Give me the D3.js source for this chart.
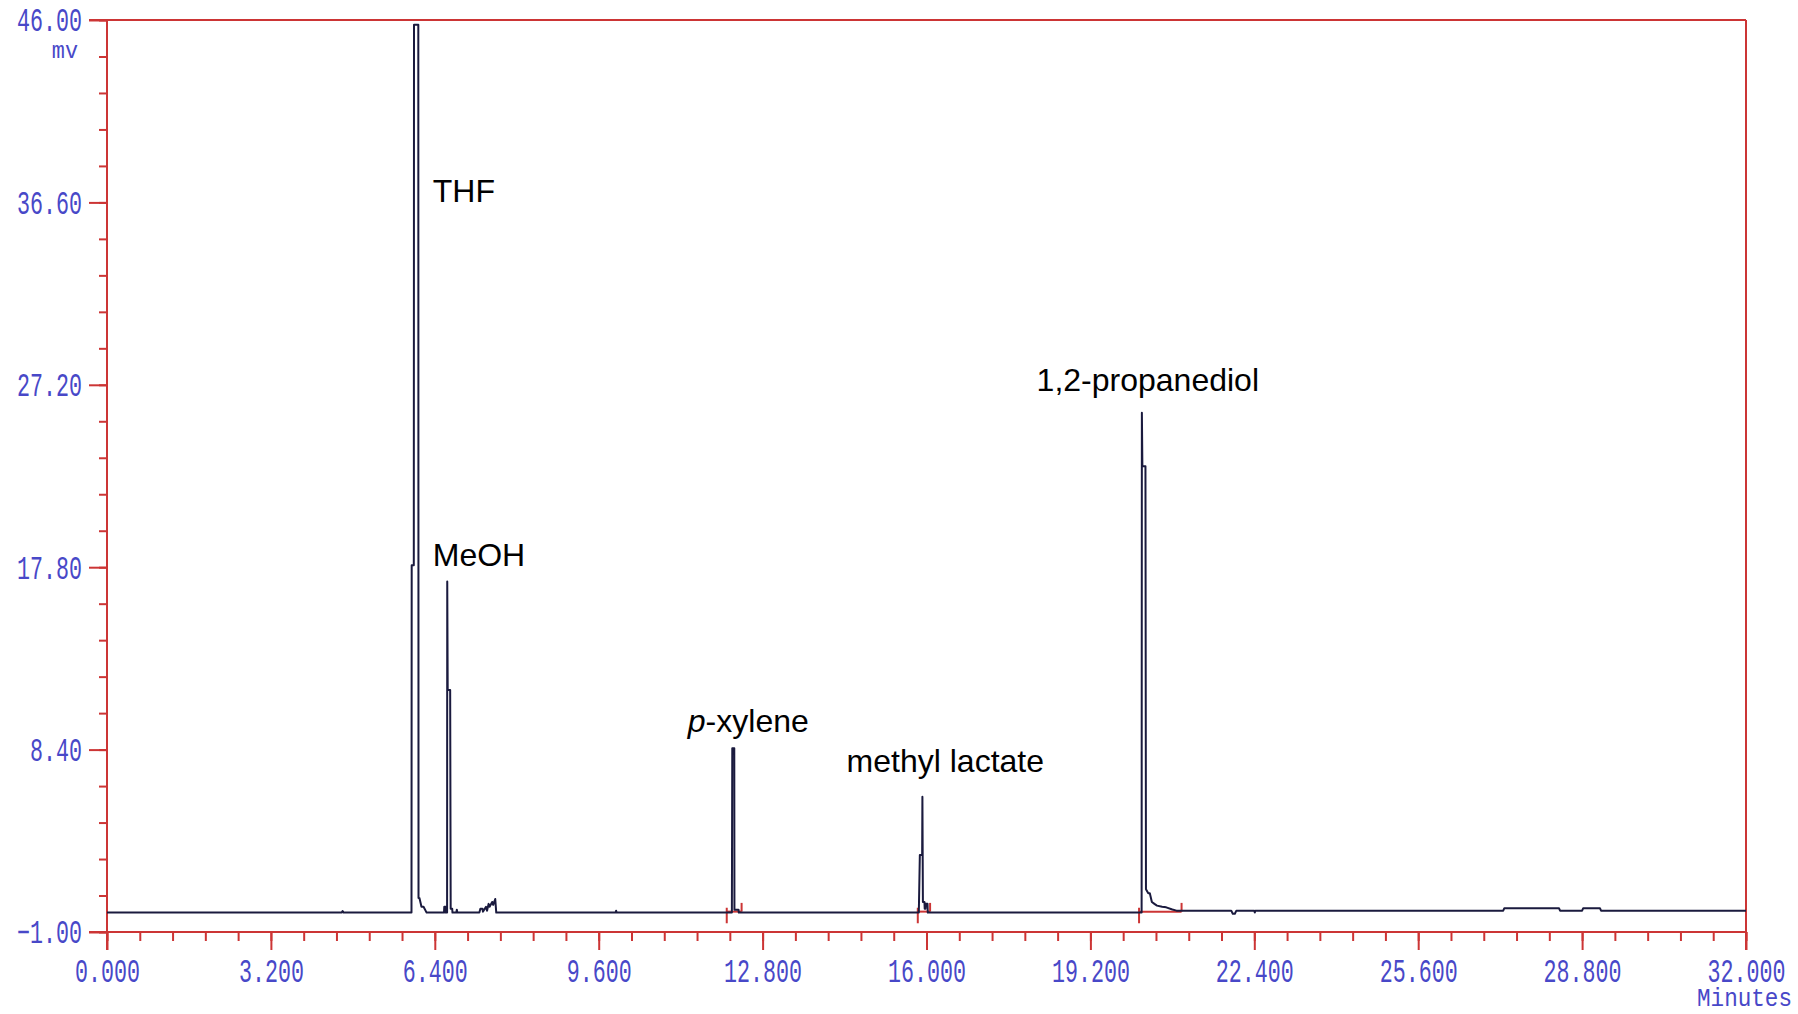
<!DOCTYPE html>
<html>
<head>
<meta charset="utf-8">
<script src="https://cdn.jsdelivr.net/npm/d3@7"></script>
<style>
  html, body { margin: 0; padding: 0; background: #ffffff; }
  svg { display: block; }
</style>
</head>
<body>
<svg id="chart" width="1798" height="1014"></svg>
<script>
// Chromatogram segments: [retention time (min), detector signal (mV)]
const earlyBaseline = [[0, 0], [4.58, 0], [4.60, 0.08], [4.62, 0]];
const thfPeak = [[5.945, 0], [5.949, 17.9], [5.990, 17.9], [5.994, 45.75], [6.078, 45.75],
  [6.082, 0.75], [6.10, 0.75], [6.14, 0.3], [6.18, 0.3], [6.24, 0]];
const meohPeak = [[6.58, 0], [6.585, 0.3], [6.61, 0.3], [6.615, 0], [6.640, 0], [6.643, 17.06],
  [6.652, 11.47], [6.70, 11.47], [6.71, 0.2], [6.74, 0.2], [6.745, 0], [6.82, 0], [6.83, 0.15], [6.84, 0]];
const minorCluster = [[7.27, 0], [7.29, 0.2], [7.33, 0.2], [7.34, 0.05], [7.40, 0.3], [7.42, 0.1],
  [7.45, 0.45], [7.47, 0.3], [7.52, 0.55], [7.54, 0.4], [7.58, 0.7], [7.60, 0],
  [9.93, 0], [9.94, 0.1], [9.95, 0]];
const xylenePeak = [[12.20, 0], [12.208, 8.47], [12.247, 8.47], [12.25, 0.15], [12.33, 0.15], [12.335, 0]];
const lactatePeak = [[15.85, 0], [15.87, 2.97], [15.915, 2.97], [15.92, 5.97], [15.93, 0.55],
  [15.96, 0.55], [15.965, 0.2], [15.98, 0.2], [15.985, 0.45], [16.02, 0.45], [16.025, 0]];
const propanediolPeak = [[20.20, 0], [20.205, 25.76], [20.215, 23.0], [20.275, 23.0], [20.285, 1.2],
  [20.33, 1.0], [20.36, 1.0], [20.40, 0.55], [20.45, 0.45], [20.50, 0.36], [20.60, 0.3],
  [20.68, 0.27], [20.80, 0.16], [20.88, 0.1]];
const lateBaseline = [[21.95, 0.1], [21.98, -0.06], [22.02, -0.06], [22.05, 0.1], [22.40, 0.1],
  [22.41, 0.0], [22.42, 0.1], [27.26, 0.1], [27.28, 0.22], [28.35, 0.22], [28.37, 0.1],
  [28.80, 0.1], [28.82, 0.22], [29.15, 0.22], [29.17, 0.1], [32, 0.1]];

// Integration windows [start, end] (min)
const integrationStart = [12.10, 15.83, 20.15];
const integrationEnd = [12.39, 16.07, 20.98];

// Axis ticks
const yTickValues = [-1.00, 8.40, 17.80, 27.20, 36.60, 46.00];
const xTickValues = [0, 3.2, 6.4, 9.6, 12.8, 16.0, 19.2, 22.4, 25.6, 28.8, 32.0];

// Peak annotations anchored in data units (min, mV)
const peakNames = ["THF", "MeOH", "p-xylene", "methyl lactate", "1,2-propanediol"];
const peakLabelTime = [6.36, 6.36, 11.34, 14.44, 18.15];
const peakLabelSignal = [36.64, 17.88, 9.32, 7.26, 26.9];

const trace = [].concat(earlyBaseline, thfPeak, meohPeak, minorCluster, xylenePeak,
  lactatePeak, propanediolPeak, lateBaseline);

const svg = d3.select("#chart");
const axisRed = "#cc3535";
const labelBlue = "#4848c8";
const traceColor = "#1a1a3e";

const x = d3.scaleLinear().domain([0, 32]).range([107, 1746]);
const y = d3.scaleLinear().domain([-1, 46]).range([932, 20]);

const monoFont = "'Liberation Mono', 'DejaVu Sans Mono', monospace";
const labelSize = 33;
const condense = 13 / (0.6 * labelSize);   // narrow instrument-style digits

// Minor ticks
const yMinor = d3.range(0, 26).map(k => -1 + k * 1.88);
const xMinor = d3.range(0, 51).map(k => k * 0.64);

const yMinorAxis = svg.append("g").attr("transform", `translate(${x(0)},0)`)
  .call(d3.axisLeft(y).tickValues(yMinor).tickSize(8).tickFormat(""));
const xMinorAxis = svg.append("g").attr("transform", `translate(0,${y(-1)})`)
  .call(d3.axisBottom(x).tickValues(xMinor).tickSize(9).tickFormat(""));

// Major ticks with labels
const yAxis = svg.append("g").attr("transform", `translate(${x(0)},0)`)
  .call(d3.axisLeft(y).tickValues(yTickValues).tickSize(18).tickFormat(d3.format(".2f")));
const xAxis = svg.append("g").attr("transform", `translate(0,${y(-1)})`)
  .call(d3.axisBottom(x).tickValues(xTickValues).tickSize(18).tickFormat(d3.format(".3f")));

[yMinorAxis, xMinorAxis, yAxis, xAxis].forEach(g => {
  g.select(".domain").remove();
  g.selectAll(".tick line").attr("stroke", axisRed).attr("stroke-width", 2);
});

yAxis.selectAll(".tick text")
  .attr("x", null).attr("dy", null)
  .attr("transform", `translate(-25, ${0.33 * labelSize}) scale(${condense}, 1)`)
  .attr("fill", labelBlue)
  .style("font-family", monoFont).style("font-size", labelSize + "px");

xAxis.selectAll(".tick text")
  .attr("y", null).attr("dy", null)
  .attr("transform", `translate(0, 50) scale(${condense}, 1)`)
  .attr("fill", labelBlue)
  .style("font-family", monoFont).style("font-size", labelSize + "px");

// Frame
const frame = svg.append("g").attr("stroke", axisRed).attr("stroke-width", 2).attr("fill", "none");
frame.append("line").attr("x1", x(0) - 18).attr("x2", x(32)).attr("y1", y(46)).attr("y2", y(46));
frame.append("line").attr("x1", x(0) - 18).attr("x2", x(32)).attr("y1", y(-1)).attr("y2", y(-1));
frame.append("line").attr("x1", x(0)).attr("x2", x(0)).attr("y1", y(46)).attr("y2", y(-1) + 18);
frame.append("line").attr("x1", x(32)).attr("x2", x(32)).attr("y1", y(46)).attr("y2", y(-1) + 18);

// Unit captions
svg.append("text").attr("text-anchor", "end")
  .attr("transform", "translate(78,58) scale(0.95,1)")
  .attr("fill", labelBlue).style("font-family", monoFont).style("font-size", "23px")
  .text("mv");
svg.append("text").attr("text-anchor", "end")
  .attr("transform", "translate(1792,1006) scale(0.87,1)")
  .attr("fill", labelBlue).style("font-family", monoFont).style("font-size", "26px")
  .text("Minutes");

// Integration markers
const marks = svg.append("g").attr("stroke", axisRed).attr("stroke-width", 2).attr("fill", "none");
integrationStart.forEach((s, i) => {
  const e = integrationEnd[i];
  marks.append("line").attr("x1", x(s)).attr("x2", x(e)).attr("y1", y(0.05)).attr("y2", y(0.05));
  marks.append("line").attr("x1", x(s)).attr("x2", x(s)).attr("y1", y(-0.55)).attr("y2", y(0.25));
  marks.append("line").attr("x1", x(e)).attr("x2", x(e)).attr("y1", y(0.05)).attr("y2", y(0.5));
});

// Signal trace
const line = d3.line().x(d => x(d[0])).y(d => y(d[1]));
svg.append("path").datum(trace)
  .attr("d", line)
  .attr("fill", "none")
  .attr("stroke", traceColor)
  .attr("stroke-width", 2)
  .attr("stroke-linejoin", "round");

// Peak annotations
const ann = svg.append("g")
  .style("font-family", "'Liberation Sans', Arial, sans-serif")
  .style("font-size", "32px").attr("fill", "#000");
peakNames.forEach((name, i) => {
  const t = ann.append("text").attr("x", x(peakLabelTime[i])).attr("y", y(peakLabelSignal[i]));
  if (name.startsWith("p-")) {
    t.append("tspan").style("font-style", "italic").text("p");
    t.append("tspan").text(name.slice(1));
  } else {
    t.text(name);
  }
});
</script>
</body>
</html>
